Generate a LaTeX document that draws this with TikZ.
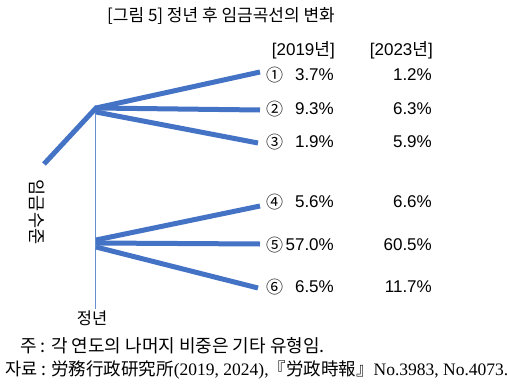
\documentclass[tikz,border=0pt]{standalone}
\usepackage{fontspec}
\setmainfont{Noto Sans CJK KR}
\newfontfamily\jpfont{Noto Sans CJK JP}
\newfontfamily\numfont{Liberation Serif}
\newfontfamily\digfont{Liberation Sans}
\definecolor{wageblue}{RGB}{68,114,196}
\tikzset{
  curve/.style={line width=5pt, wageblue},
  axis/.style={line width=1pt, wageblue!80},
  num/.style={font=\fontsize{17}{19}\selectfont\digfont, inner sep=0pt},
}
\begin{document}
\begin{tikzpicture}[x=1pt,y=-1pt]
      \useasboundingbox (0,0) rectangle (507,386);
      \node [inner sep=0pt, font=\fontsize{17}{20}\selectfont] (title) at (221,16) {[그림 5] 정년 후 임금곡선의 변화};
      \node [num, anchor=east] (h19) at (335,50) {[2019{\rmfamily 년}]};
      \node [num, anchor=east] (h23) at (433,50) {[2023{\rmfamily 년}]};
      % wage curve
      \coordinate (start) at (44,164);
      \coordinate (up) at (96,108);
      \coordinate (low) at (96,240);
      \coordinate (bot) at (95,309);
      \draw [axis] (95,108) -- (bot);
      \draw [curve, line join=miter] (start) -- (up) -- (260,110) coordinate (e2);
      \draw [curve] (up) -- (260,72) coordinate (e1);
      \draw [curve] (96,112) -- (258,143) coordinate (e3);
      \draw [curve] (low) -- (260,206) coordinate (e4);
      \draw [curve] (96,243) -- (260,244) coordinate (e5);
      \draw [curve] (96,247) -- (258,288) coordinate (e6);
      % values
      \foreach \i/\y/\c/\a/\b in {1/75/①/3.7\%/1.2\%, 2/109/②/9.3\%/6.3\%, 3/142/③/1.9\%/5.9\%,
                                  4/202/④/5.6\%/6.6\%, 5/245/⑤/57.0\%/60.5\%, 6/287/⑥/6.5\%/11.7\%}{
        \node [num, font=\fontsize{17}{19}\selectfont, anchor=west] (c\i) at (266,\y) {\c};
        \node [num, anchor=east] (a\i) at (334,\y) {\a};
        \node [num, anchor=east] (b\i) at (432,\y) {\b};
      }
      \node [rotate=-90, inner sep=0pt, font=\fontsize{17.5}{20}\selectfont] (ylab) at (37,212) {임금수준};
      \node [inner sep=0pt, font=\fontsize{16.5}{18}\selectfont] (xlab) at (92,318) {정년};
      % note and source
      \node [anchor=west, inner sep=0pt, font=\fontsize{18}{20}\selectfont] (note) at (20,346) {주 : 각 연도의 나머지 비중은 기타 유형임.};
      \node [anchor=west, inner sep=0pt, font=\fontsize{17.5}{20}\selectfont] (src) at (5,370)
        {자료 : {\jpfont 労務行政研究所}{\numfont (2019, 2024),}{\jpfont 『労政時報』}{\numfont No.3983, No.4073.}};
    \end{tikzpicture}
\end{document}
